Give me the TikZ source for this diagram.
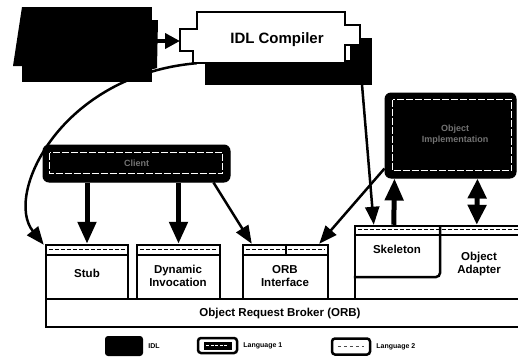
\documentclass[tikz,border=0pt]{standalone}
\usepackage{fontspec}
\setmainfont{Liberation Sans}
\usetikzlibrary{arrows.meta,calc}
\begin{document}
\begin{tikzpicture}[x=1pt,y=-1pt,
 box/.style={draw,line width=2.5pt,fill=white,inner sep=0pt},
 lbl/.style={font=\bfseries\fontsize{11.5}{13}\selectfont,align=center,inner sep=0pt},
 leglbl/.style={font=\bfseries\fontsize{7}{8}\selectfont,inner sep=0pt,anchor=west},
 blk/.style={fill=black,draw=black,line width=1pt,rounded corners=6pt,inner sep=0pt},
 inner/.style={draw=white,line width=1pt,dash pattern=on 7pt off 2pt},
 ghost/.style={font=\bfseries\small,text=black!55,align=center,inner sep=0pt},
 thickarr/.style={line width=5pt,-{Triangle[length=22pt,width=18pt]}},
 thinarr/.style={line width=2.5pt,-{Triangle[length=18pt,width=14pt]}},
 stripline/.style={line width=1.2pt,dash pattern=on 4pt off 2pt},
]
\useasboundingbox (0,0) rectangle (518,357);
\clip (0,0) rectangle (518,357);

% ---- bottom layer: ORB and component boxes
\node[box,minimum width=484pt,minimum height=28pt] (orb) at (288,313) {};
\node[lbl] (orbt) at (280,314) {Object Request Broker (ORB)};

\node[box,minimum width=82pt,minimum height=54pt] (stub) at (87,272) {};
\node[box,minimum width=83pt,minimum height=54pt] (dyn) at (178.5,272) {};
\node[box,minimum width=85pt,minimum height=54pt] (orbi) at (285.5,272) {};
\foreach \n in {stub,dyn,orbi}{
  \draw[line width=2pt] ([yshift=-11pt]\n.north west) -- ([yshift=-11pt]\n.north east);
  \draw[stripline] ([shift={(4pt,-5.5pt)}]\n.north west) -- ([shift={(-4pt,-5.5pt)}]\n.north east);
}
\draw[line width=2pt] (orbi.north) -- ++(0,11);

\node[lbl] (stubt) at (87,273) {Stub};
\node[lbl] (dynt) at (178,276) {Dynamic\\Invocation};
\node[lbl] (orbit) at (285,276) {ORB\\Interface};

\node[box,minimum width=175pt,minimum height=73pt] (rbox) at (442.5,262.5) {};
\draw[line width=2.5pt,rounded corners=4pt] (rbox.north west |- 0,277) -- (440,277) -- (440,226);
\draw[line width=2pt] ([yshift=-10pt]rbox.north west) -- ([yshift=-10pt]rbox.north east);
\draw[stripline] ([shift={(4pt,-5pt)}]rbox.north west) -- ([shift={(-4pt,-5pt)}]rbox.north east);
\node[lbl] (skelt) at (397,249) {Skeleton};
\node[lbl] (oat) at (479,264) {Object\\Adapter};

% ---- IDL compiler anchor node (outline drawn later)
\node[inner sep=0pt,minimum width=148pt,minimum height=51pt] (idlc) at (271,37.5) {};

% ---- connectors from the IDL compiler (drawn under the black boxes)
\draw[thinarr] (idlc.south west) .. controls (60,75) and (4,195) .. ($(stub.north west)+(-1,1)$);
\draw[thinarr] ($(idlc.south east)+(15,0)$) -- ($(rbox.north west)+(20,0)$);

% ---- IDL box
\node[fill=black,inner sep=0pt,minimum width=130pt,minimum height=75pt] (idl) at (87,44.5) {};
\fill (22,7) -- (13,66) -- (24,66) -- cycle;
\fill (150,20) -- (158,20) -- (157,68) -- (150,70) -- cycle;

% ---- IDL compiler
\fill (205,60) rectangle (372,85);
\fill (350,38) rectangle (372,85);
\draw[line width=2.5pt,fill=white] (197,12) -- (345,12) -- (345,25) -- (360,25) -- (360,45)
  -- (345,45) -- (345,63) -- (193,63) -- (193,51) -- (180,51) -- (180,29) -- (197,29) -- cycle;
\node[font=\bfseries\fontsize{15}{17}\selectfont,inner sep=0pt] (idlct) at (277,40) {IDL Compiler};
\coordinate (tabL) at (180,41);
\draw[line width=4pt,-{Triangle[length=15pt,width=15pt]}] (idl.east |- tabL) -- (tabL);

% ---- client box
\node[blk,minimum width=187pt,minimum height=37pt] (client) at (136.5,163.5) {};
\draw[inner] ([shift={(7pt,-8pt)}]client.north west) rectangle ([shift={(-8pt,9pt)}]client.south east);
\node[ghost] (clientt) at (client) {Client};

% ---- object implementation box
\node[blk,minimum width=131pt,minimum height=85pt] (impl) at (450.5,135.5) {};
\draw[inner] ([shift={(8pt,-7pt)}]impl.north west) rectangle ([shift={(-5pt,8pt)}]impl.south east);
\node[ghost] (implt) at (455,135) {Object\\Implementation};

% ---- connectors
\draw[thickarr] (client.south -| stub.north) -- (stub.north);
\draw[thickarr] (client.south -| dyn.north) -- (dyn.north);
\draw[thinarr] ($(client.south east)+(-17,0)$) -- ($(orbi.north west)+(10,0)$);
\draw[thinarr] ($(impl.south west)+(0,-10)$) -- ($(orbi.north east)+(-10,0)$);
\draw[thickarr] ($(rbox.north west)+(40,0)$) -- ($(impl.south west)+(10,0)$);
\draw[line width=5pt,{Triangle[length=20pt,width=18pt]}-{Triangle[length=20pt,width=18pt]}]
  ($(impl.south west)+(93,0)$) -- ($(rbox.north west)+(123,0)$);

% ---- legend
\node[fill=black,rounded corners=3pt,minimum width=38pt,minimum height=20pt,inner sep=0pt] (legidl) at (124,346) {};
\node[leglbl] (legidlt) at ([xshift=5pt]legidl.east) {IDL};
\node[box,rounded corners=3pt,minimum width=39pt,minimum height=15pt] (leg1) at (217.5,345.5) {};
\node[fill=black,minimum width=28pt,minimum height=8pt,inner sep=0pt] (leg1in) at (leg1) {};
\draw[white,line width=1pt,dash pattern=on 3pt off 1.5pt] ([xshift=3pt]leg1in.west) -- ([xshift=-3pt]leg1in.east);
\node[leglbl] (leg1t) at ([xshift=5pt]leg1.east) {Language 1};
\node[box,rounded corners=3pt,minimum width=38pt,minimum height=16pt] (leg2) at (351,346.5) {};
\draw[black!70,line width=0.8pt,dash pattern=on 3pt off 3pt] ([xshift=7pt]leg2.west) -- ([xshift=-7pt]leg2.east);
\node[leglbl] (leg2t) at ([xshift=5pt]leg2.east) {Language 2};
\end{tikzpicture}
\end{document}
